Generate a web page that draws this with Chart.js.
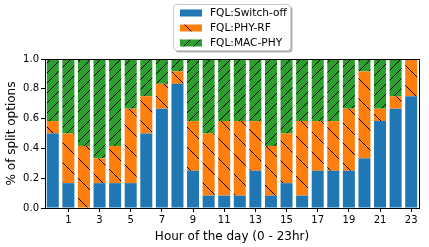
<!DOCTYPE html>
<html>
<head>
<meta charset="utf-8">
<script src="https://cdn.jsdelivr.net/npm/chart.js@4"></script>
<style>
  html, body { margin: 0; padding: 0; background: #fff; }
  #wrap { width: 429px; height: 247px; }
</style>
</head>
<body>
<div id="wrap"><canvas id="splitChart" width="429" height="247"></canvas></div>
<script>
// hours 0..23
var hours = ['0','1','2','3','4','5','6','7','8','9','10','11','12','13','14','15','16','17','18','19','20','21','22','23'];
var switchOff = [0.5, 0.1667, 0, 0.1667, 0.1667, 0.1667, 0.5, 0.6667, 0.8333, 0.25, 0.0833, 0.0833,
                 0.0833, 0.25, 0.0833, 0.1667, 0.0833, 0.25, 0.25, 0.25, 0.3333, 0.5833, 0.6667, 0.75];
var phyRf = [0.0833, 0.3333, 0.4167, 0.1667, 0.25, 0.5, 0.25, 0.1667, 0.0833, 0.3333, 0.4167, 0.5,
             0.5, 0.3333, 0.3333, 0.3333, 0.5, 0.3333, 0.3333, 0.4167, 0.5833, 0.0833, 0.0833, 0.25];
var macPhy = [0.4167, 0.5, 0.5833, 0.6667, 0.5833, 0.3333, 0.25, 0.1667, 0.0833, 0.4167, 0.5, 0.4167,
              0.4167, 0.4167, 0.5833, 0.5, 0.4167, 0.4167, 0.4167, 0.3333, 0.0833, 0.3333, 0.25, 0];
var yTicks = [0, 0.2, 0.4, 0.6, 0.8, 1.0];
var seriesNames = ['FQL:Switch-off', 'FQL:PHY-RF', 'FQL:MAC-PHY'];

var FONT = '"DejaVu Sans", sans-serif';

// matplotlib-like hatch fills
function hatch(color, size, dir) {
  var c = document.createElement('canvas');
  c.width = size; c.height = size;
  var g = c.getContext('2d');
  g.fillStyle = color;
  g.fillRect(0, 0, size, size);
  g.strokeStyle = '#000';
  g.lineWidth = 1;
  g.beginPath();
  if (dir === '/') {
    g.moveTo(-1, size + 1); g.lineTo(size + 1, -1);
    g.moveTo(-1, 1); g.lineTo(1, -1);
    g.moveTo(size - 1, size + 1); g.lineTo(size + 1, size - 1);
  } else {
    g.moveTo(-1, -1); g.lineTo(size + 1, size + 1);
    g.moveTo(size - 1, -1); g.lineTo(size + 1, 1);
    g.moveTo(-1, size - 1); g.lineTo(1, size + 1);
  }
  g.stroke();
  return document.getElementById('splitChart').getContext('2d').createPattern(c, 'repeat');
}

var fills = ['#1f77b4', hatch('#ff7f0e', 20, '\\'), hatch('#2ca02c', 10, '/')];

var framePlugin = {
  id: 'frame',
  afterDraw: function(chart) {
    var ctx = chart.ctx, a = chart.chartArea;
    ctx.save();
    ctx.strokeStyle = '#000';
    ctx.lineWidth = 1;
    ctx.strokeRect(Math.round(a.left) + 0.5, Math.round(a.top) + 0.5,
                   Math.round(a.right - a.left), Math.round(a.bottom - a.top));

    // legend box
    var bx = 173.5, by = 4.5, bw = 117, bh = 46;
    ctx.fillStyle = 'rgba(0,0,0,0.3)';
    roundRect(ctx, bx + 2, by + 2, bw, bh, 3); ctx.fill();
    ctx.fillStyle = '#fff';
    roundRect(ctx, bx, by, bw, bh, 3); ctx.fill();
    ctx.strokeStyle = '#ccc';
    ctx.stroke();
    ctx.font = '10.6px ' + FONT;
    ctx.textBaseline = 'middle';
    ctx.textAlign = 'left';
    for (var i = 0; i < seriesNames.length; i++) {
      var ry = 13 + i * 15;
      ctx.fillStyle = fills[i];
      ctx.fillRect(180, ry - 3.5, 22, 7);
      ctx.fillStyle = '#000';
      ctx.fillText(seriesNames[i], 210, ry + 0.5);
    }
    ctx.restore();
  }
};

function roundRect(ctx, x, y, w, h, r) {
  ctx.beginPath();
  ctx.moveTo(x + r, y);
  ctx.lineTo(x + w - r, y); ctx.quadraticCurveTo(x + w, y, x + w, y + r);
  ctx.lineTo(x + w, y + h - r); ctx.quadraticCurveTo(x + w, y + h, x + w - r, y + h);
  ctx.lineTo(x + r, y + h); ctx.quadraticCurveTo(x, y + h, x, y + h - r);
  ctx.lineTo(x, y + r); ctx.quadraticCurveTo(x, y, x + r, y);
  ctx.closePath();
}

var oddOnly = function(c) { return c.index % 2 === 1 ? '#000' : 'rgba(0,0,0,0)'; };

new Chart(document.getElementById('splitChart'), {
  type: 'bar',
  data: {
    labels: hours,
    datasets: [
      { label: seriesNames[0], data: switchOff, backgroundColor: fills[0] },
      { label: seriesNames[1], data: phyRf, backgroundColor: fills[1] },
      { label: seriesNames[2], data: macPhy, backgroundColor: fills[2] }
    ]
  },
  options: {
    responsive: false,
    animation: false,
    layout: { padding: { top: 59, right: 10, left: 0, bottom: 3 } },
    datasets: { bar: { barPercentage: 0.77, categoryPercentage: 1.0, borderWidth: 0 } },
    plugins: { legend: { display: false }, tooltip: { enabled: false } },
    scales: {
      x: {
        stacked: true,
        afterFit: function(s) { s.height = 36; },
        grid: { offset: false, drawOnChartArea: false, drawTicks: true, tickLength: 4, color: oddOnly },
        border: { display: true, color: '#000', width: 1 },
        ticks: {
          autoSkip: false, maxRotation: 0, padding: 2, color: '#000',
          font: { family: FONT, size: 10 },
          callback: function(v, i) { return i % 2 === 1 ? hours[i] : ''; }
        },
        title: { display: true, text: 'Hour of the day (0 - 23hr)', color: '#000',
                 font: { family: FONT, size: 12 }, padding: { top: 0, bottom: 0 } }
      },
      y: {
        stacked: true, min: 0, max: 1,
        afterFit: function(s) { s.width = 45; },
        afterBuildTicks: function(s) { s.ticks = yTicks.map(function(v) { return { value: v }; }); },
        grid: { drawOnChartArea: false, drawTicks: true, tickLength: 4, color: '#000' },
        border: { display: true, color: '#000', width: 1 },
        ticks: { padding: 2, color: '#000', font: { family: FONT, size: 10 },
                 callback: function(v) { return Number(v).toFixed(1); } },
        title: { display: true, text: '% of split options', color: '#000',
                 font: { family: FONT, size: 12 }, padding: { top: 5, bottom: 0 } }
      }
    }
  },
  plugins: [framePlugin]
});
</script>
</body>
</html>
